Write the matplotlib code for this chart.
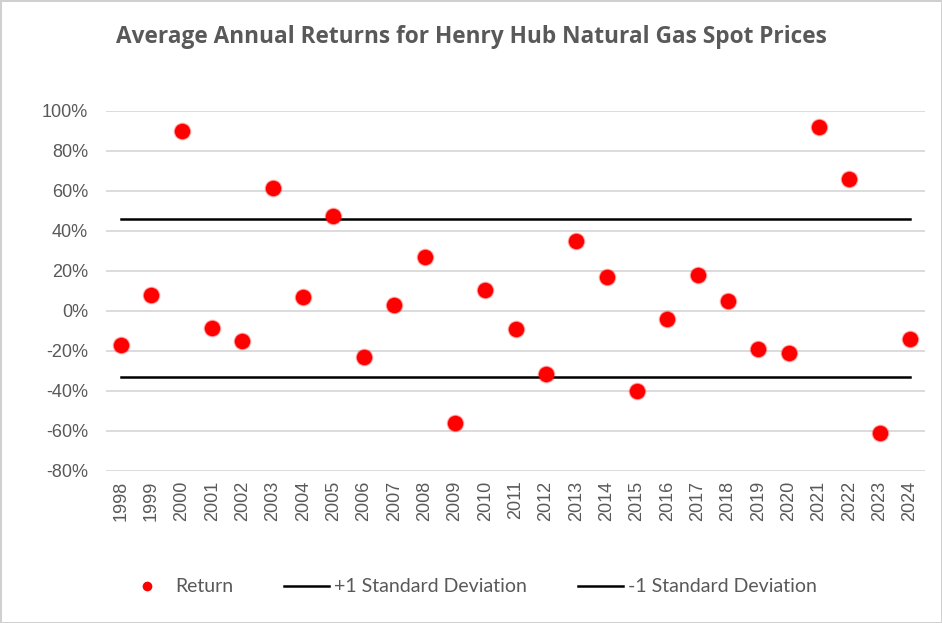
import numpy as np
import matplotlib.pyplot as plt
from matplotlib.ticker import FuncFormatter
from matplotlib.lines import Line2D

# data
years = [str(y) for y in range(1998, 2025)]
returns = [-0.17, 0.08, 0.90, -0.085, -0.15, 0.615, 0.07, 0.475, -0.23, 0.03,
           0.27, -0.56, 0.105, -0.09, -0.315, 0.35, 0.17, -0.40, -0.04, 0.18,
           0.05, -0.19, -0.21, 0.92, 0.66, -0.61, -0.14]
plus_sd = 0.46
minus_sd = -0.33

gray = "#595959"

fig = plt.figure(figsize=(9.42, 6.23), dpi=100)
fig.patch.set_edgecolor("#d0d0d0")
fig.patch.set_linewidth(2)
ax = fig.add_axes([0.1125, 0.244, 0.8695, 0.578])

x = np.arange(len(years))

# soft-edged red markers (faint halo, then the solid dot)
ax.plot(x, returns, "o", ms=13, color="red", alpha=0.18, mec="none", zorder=3)
ax.plot(x, returns, "o", ms=12, color="red", alpha=0.35, mec="none", zorder=3)
ax.plot(x, returns, "o", ms=11, color="red", mec="none", zorder=4)

ax.plot(x, [plus_sd] * len(x), color="black", lw=1.8, zorder=2)
ax.plot(x, [minus_sd] * len(x), color="black", lw=1.8, zorder=2)

ax.set_xlim(-0.5, len(years) - 0.5)
ax.set_ylim(-0.8, 1.0)
ax.set_yticks(np.arange(-0.8, 1.01, 0.2))
ax.yaxis.set_major_formatter(FuncFormatter(lambda v, p: "%d%%" % round(v * 100)))
ax.set_xticks(x)
ax.set_xticklabels(years, rotation=90)
ax.tick_params(axis="both", length=0, labelsize=13, labelcolor=gray)
ax.tick_params(axis="y", pad=13)
ax.tick_params(axis="x", pad=7)
for lab in ax.get_xticklabels() + ax.get_yticklabels():
    lab.set_family("Liberation Sans")

ax.grid(axis="y", color="#d9d9d9", lw=1.3)
ax.set_axisbelow(True)
for s in ax.spines.values():
    s.set_visible(False)

fig.text(0.5, 0.94, "Average Annual Returns for Henry Hub Natural Gas Spot Prices",
         ha="center", va="center", fontsize=16.3, fontweight="bold", color=gray,
         family="Open Sans")

handles = [
    Line2D([], [], ls="none", marker="o", ms=7, color="red", mec="none"),
    Line2D([], [], color="black", lw=1.8),
    Line2D([], [], color="black", lw=1.8),
]
labels = ["Return", "+1 Standard Deviation", "-1 Standard Deviation"]
leg = fig.legend(handles, labels, loc="center", bbox_to_anchor=(0.5, 0.058), ncol=3,
                 frameon=False, handlelength=2.3, columnspacing=2.6, handletextpad=0.3,
                 prop={"family": "Lato", "size": 14})
for t in leg.get_texts():
    t.set_color(gray)

fig.savefig("out.png", dpi=100)
